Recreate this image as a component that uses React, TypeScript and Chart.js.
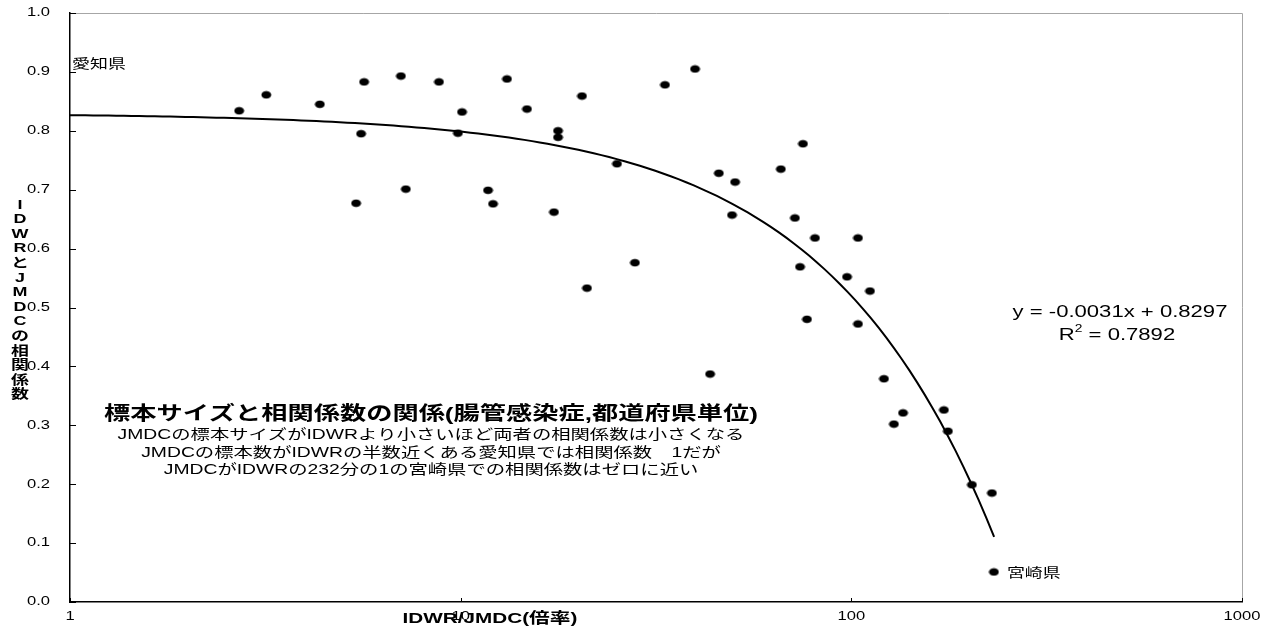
import React, { useEffect, useRef } from "react";
import { Chart, registerables } from "chart.js";

Chart.register(...registerables);

// IDWR/JMDC ratio per prefecture (x) and correlation coefficient (y)
const ratioValues: number[] = [
  2.71, 3.18, 4.36, 5.66, 7.03, 8.80, 13.14, 5.56, 10.08, 14.78,
  20.44, 33.34, 39.8, 9.84, 17.75, 17.75, 25.12, 5.40, 7.24, 11.75,
  12.10, 17.33, 27.93, 21.05, 75.2, 66.0, 45.8, 50.4, 49.5, 71.7,
  80.7, 104.0, 73.9, 97.5, 111.6, 77.0, 104.0, 43.5, 121.2, 135.6,
  128.5, 172.6, 176.7, 203.5, 229.0, 231.7,
];
const correlationValues: number[] = [
  0.834, 0.861, 0.845, 0.883, 0.893, 0.883, 0.888, 0.795, 0.832, 0.837,
  0.859, 0.878, 0.905, 0.796, 0.800, 0.789, 0.744, 0.677, 0.701, 0.699,
  0.676, 0.662, 0.576, 0.533, 0.778, 0.735, 0.728, 0.713, 0.657, 0.652,
  0.618, 0.618, 0.569, 0.552, 0.528, 0.480, 0.472, 0.387, 0.379, 0.321,
  0.302, 0.326, 0.290, 0.199, 0.185, 0.051,
];

// Linear trend fitted in Excel: y = slope * x + intercept
const trendSlope = -0.0031;
const trendIntercept = 0.8297;
const trendStart = 1;
const trendEnd = 232;

const xTickValues: number[] = [1, 10, 100, 1000];
const yTickValues: number[] = [0, 0.1, 0.2, 0.3, 0.4, 0.5, 0.6, 0.7, 0.8, 0.9, 1.0];

const yAxisTitle = "IDWRとJMDCの相関係数";
const xAxisTitle = "IDWR/JMDC(倍率)";
const noteTitle = "標本サイズと相関係数の関係(腸管感染症,都道府県単位)";
const noteLines: string[] = [
  "JMDCの標本サイズがIDWRより小さいほど両者の相関係数は小さくなる",
  "JMDCの標本数がIDWRの半数近くある愛知県では相関係数　1だが",
  "JMDCがIDWRの232分の1の宮崎県での相関係数はゼロに近い",
];
const equationText = "y = -0.0031x + 0.8297";
const rSquaredValue = "0.7892";
const aichiLabel = "愛知県";
const miyazakiLabel = "宮崎県";
const miyazakiIndex = 45;

const LATIN = '"Liberation Sans", Arial, sans-serif';
const CJK = '"Liberation Sans", "Noto Sans CJK JP", sans-serif';
// text in this chart is set wide
const WIDE = 1.38;

function trendPoints() {
  const pts: { x: number; y: number }[] = [];
  const n = 120;
  const a = Math.log10(trendStart);
  const b = Math.log10(trendEnd);
  for (let i = 0; i <= n; i++) {
    const x = Math.pow(10, a + ((b - a) * i) / n);
    pts.push({ x, y: trendSlope * x + trendIntercept });
  }
  return pts;
}

function makeMarker() {
  const c = document.createElement("canvas");
  c.width = 11;
  c.height = 9;
  const g = c.getContext("2d")!;
  g.fillStyle = "#000";
  g.beginPath();
  g.ellipse(5.5, 4.5, 4.9, 3.8, 0, 0, Math.PI * 2);
  g.fill();
  return c;
}

// draws text squeezed/stretched horizontally around its anchor
function wideText(
  ctx: CanvasRenderingContext2D,
  text: string,
  x: number,
  y: number,
  font: string,
  align: CanvasTextAlign,
  sx = WIDE
) {
  ctx.save();
  ctx.font = font;
  ctx.textAlign = align;
  ctx.textBaseline = "middle";
  ctx.translate(x, y);
  ctx.scale(sx, 1);
  ctx.fillText(text, 0, 0);
  ctx.restore();
}

const decorPlugin = {
  id: "decor",
  afterDraw(chart: any) {
    const { ctx, chartArea, scales } = chart;
    const xs = scales.x;
    const ys = scales.y;
    ctx.save();

    // top and right frame
    ctx.strokeStyle = "#a6a6a6";
    ctx.lineWidth = 1;
    ctx.beginPath();
    ctx.moveTo(chartArea.left, chartArea.top + 0.5);
    ctx.lineTo(chartArea.right + 0.5, chartArea.top + 0.5);
    ctx.lineTo(chartArea.right + 0.5, chartArea.bottom);
    ctx.stroke();

    // inward tick marks
    ctx.strokeStyle = "#000";
    ctx.beginPath();
    for (const v of yTickValues) {
      const py = Math.round(ys.getPixelForValue(v)) + 0.5;
      ctx.moveTo(chartArea.left, py);
      ctx.lineTo(chartArea.left + 6, py);
    }
    for (const v of xTickValues) {
      const px = Math.round(xs.getPixelForValue(v)) + 0.5;
      ctx.moveTo(px, chartArea.bottom);
      ctx.lineTo(px, chartArea.bottom - 4);
    }
    ctx.stroke();

    ctx.fillStyle = "#000";

    // tick labels
    for (const v of yTickValues) {
      wideText(ctx, v.toFixed(1), chartArea.left - 20, ys.getPixelForValue(v), `12px ${LATIN}`, "right");
    }
    for (const v of xTickValues) {
      wideText(ctx, String(v), xs.getPixelForValue(v), 617, `12px ${LATIN}`, "center");
    }

    // vertical stacked y-axis title
    const chars = Array.from(yAxisTitle);
    chars.forEach((c, i) => {
      wideText(ctx, c, 20, 205 + i * 14.6, `bold 13px ${CJK}`, "center");
    });

    // x-axis title
    wideText(ctx, xAxisTitle, 490, 619, `bold 15px ${CJK}`, "center");

    // note block
    wideText(ctx, noteTitle, 431, 415, `bold 19px ${CJK}`, "center");
    const lineY = [435, 453, 470];
    noteLines.forEach((t, i) => wideText(ctx, t, 431, lineY[i], `14px ${CJK}`, "center"));

    // trend equation
    wideText(ctx, equationText, 1120, 313, `16px ${LATIN}`, "center");
    ctx.font = `16px ${LATIN}`;
    const wR = ctx.measureText("R").width * WIDE;
    const rest = " = " + rSquaredValue;
    const wRest = ctx.measureText(rest).width * WIDE;
    ctx.font = `10px ${LATIN}`;
    const wSup = ctx.measureText("2").width * WIDE;
    const total = wR + wSup + wRest;
    let sx = 1117 - total / 2;
    wideText(ctx, "R", sx, 336, `16px ${LATIN}`, "left");
    sx += wR;
    wideText(ctx, "2", sx, 329, `10px ${LATIN}`, "left");
    sx += wSup;
    wideText(ctx, rest, sx, 336, `16px ${LATIN}`, "left");

    // prefecture labels
    wideText(ctx, aichiLabel, chartArea.left + 2, 64, `13px ${CJK}`, "left");
    const mx = xs.getPixelForValue(ratioValues[miyazakiIndex]);
    const my = ys.getPixelForValue(correlationValues[miyazakiIndex]);
    wideText(ctx, miyazakiLabel, mx + 13, my + 1, `13px ${CJK}`, "left");

    ctx.restore();
  },
};

export default function App() {
  const canvasRef = useRef<HTMLCanvasElement | null>(null);

  useEffect(() => {
    const canvas = canvasRef.current;
    if (!canvas) return;
    const marker = makeMarker();
    const scatterData = ratioValues.map((x, i) => ({ x, y: correlationValues[i] }));
    const chart = new Chart(canvas, {
      type: "scatter",
      data: {
        datasets: [
          {
            type: "line",
            data: trendPoints(),
            borderColor: "#000",
            borderWidth: 2,
            pointRadius: 0,
            fill: false,
            tension: 0,
          } as any,
          {
            type: "scatter",
            data: scatterData,
            pointStyle: marker as any,
            pointRadius: 5,
            pointHoverRadius: 5,
          },
        ],
      },
      options: {
        animation: false,
        responsive: false,
        maintainAspectRatio: false,
        layout: { padding: { top: 13, right: 25, left: 0, bottom: 0 } },
        plugins: {
          legend: { display: false },
          tooltip: { enabled: false },
          title: { display: false },
        },
        scales: {
          x: {
            type: "logarithmic",
            min: 1,
            max: 1000,
            afterBuildTicks: (scale: any) => {
              scale.ticks = xTickValues.map((v) => ({ value: v }));
            },
            afterFit: (scale: any) => {
              scale.height = 28;
            },
            grid: { display: false },
            border: { display: true, color: "#000", width: 1.5 },
            ticks: { display: false },
          },
          y: {
            type: "linear",
            min: 0,
            max: 1,
            afterBuildTicks: (scale: any) => {
              scale.ticks = yTickValues.map((v) => ({ value: v }));
            },
            afterFit: (scale: any) => {
              scale.width = 70;
            },
            grid: { display: false },
            border: { display: true, color: "#000", width: 1.5 },
            ticks: { display: false },
          },
        },
      },
      plugins: [decorPlugin],
    });
    return () => chart.destroy();
  }, []);

  return (
    <div style={{ position: "absolute", left: 0, top: 0, width: 1267, height: 630, background: "#fff" }}>
      <canvas ref={canvasRef} width={1267} height={630} style={{ display: "block" }} />
    </div>
  );
}
